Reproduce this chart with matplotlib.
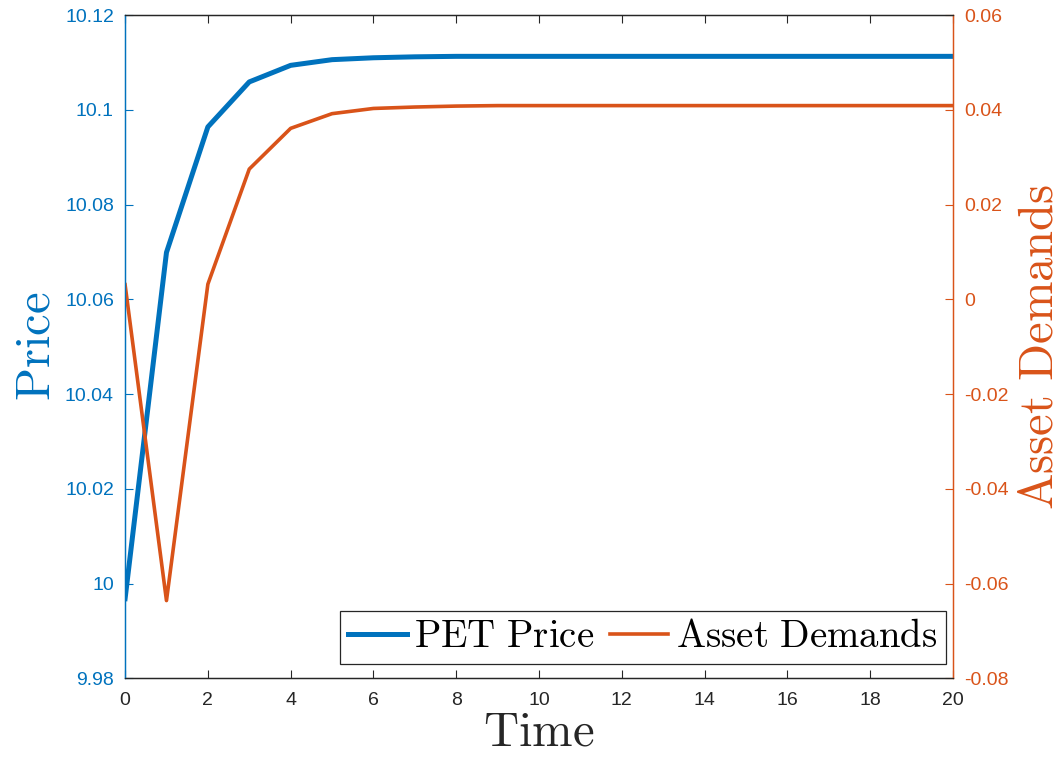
import matplotlib.pyplot as plt
from matplotlib.ticker import FuncFormatter

plt.rcParams['font.family'] = ['Liberation Sans', 'DejaVu Sans']
plt.rcParams['mathtext.fontset'] = 'cm'
plt.rcParams['axes.unicode_minus'] = False

blue = '#0072BD'
orange = '#D95319'

time = list(range(21))
pet_price = [9.9968, 10.0699, 10.0964, 10.1059, 10.1094, 10.1106, 10.1110, 10.1112,
             10.1113, 10.1113, 10.1113, 10.1113, 10.1113, 10.1113, 10.1113, 10.1113,
             10.1113, 10.1113, 10.1113, 10.1113, 10.1113]
asset_demands = [0.0031, -0.0636, 0.0032, 0.0275, 0.0361, 0.0392, 0.0403, 0.0406,
                 0.0408, 0.0409, 0.0409, 0.0409, 0.0409, 0.0409, 0.0409, 0.0409,
                 0.0409, 0.0409, 0.0409, 0.0409, 0.0409]

fig = plt.figure(figsize=(10.6, 7.57), dpi=100)
ax = fig.add_axes([0.118, 0.104, 0.781, 0.876])
ax2 = ax.twinx()

l1, = ax.plot(time, pet_price, color=blue, lw=3.6, label='PET Price')
l2, = ax2.plot(time, asset_demands, color=orange, lw=2.6, label='Asset Demands')

ax.set_xlim(0, 20)
ax.set_xticks(range(0, 21, 2))
ax.set_ylim(9.98, 10.12)
ax.set_yticks([9.98, 10.0, 10.02, 10.04, 10.06, 10.08, 10.1, 10.12])
ax.yaxis.set_major_formatter(FuncFormatter(lambda v, p: f'{v:g}'))
ax2.set_ylim(-0.08, 0.06)
ax2.set_yticks([-0.08, -0.06, -0.04, -0.02, 0, 0.02, 0.04, 0.06])
ax2.yaxis.set_major_formatter(FuncFormatter(lambda v, p: f'{v:g}' if abs(v) > 1e-9 else '0'))

# MATLAB-style box: inward ticks, coloured y spines
for a in (ax, ax2):
    for s in a.spines.values():
        s.set_linewidth(0.9)
    a.spines['top'].set_color('#262626')
    a.spines['bottom'].set_color('#262626')
    a.spines['left'].set_color(blue)
    a.spines['right'].set_color(orange)

ax.tick_params(axis='x', direction='in', length=6, top=True, labelsize=14,
               colors='#262626', pad=10)
ax.tick_params(axis='y', direction='in', length=6, labelsize=14, colors=blue, pad=8)
ax2.tick_params(axis='y', direction='in', length=6, labelsize=14, colors=orange, pad=8)

ax.set_xlabel(r'$\mathrm{Time}$', fontsize=35, color='#262626', labelpad=1)
ax.set_ylabel(r'$\mathrm{Price}$', fontsize=35, color=blue, labelpad=4)
ax2.set_ylabel(r'$\mathrm{Asset\ Demands}$', fontsize=35, color=orange, labelpad=6)

leg = ax2.legend([l1, l2], [r'$\mathrm{PET\ Price}$', r'$\mathrm{Asset\ Demands}$'],
                 loc='lower right', ncol=2, fontsize=28, fancybox=False,
                 edgecolor='#262626', framealpha=1, handlelength=1.5,
                 handletextpad=0.2, columnspacing=0.4, borderpad=0.22,
                 borderaxespad=0, bbox_to_anchor=(0.992, 0.022))
leg.get_frame().set_linewidth(0.9)

fig.savefig('out.png', dpi=100)
